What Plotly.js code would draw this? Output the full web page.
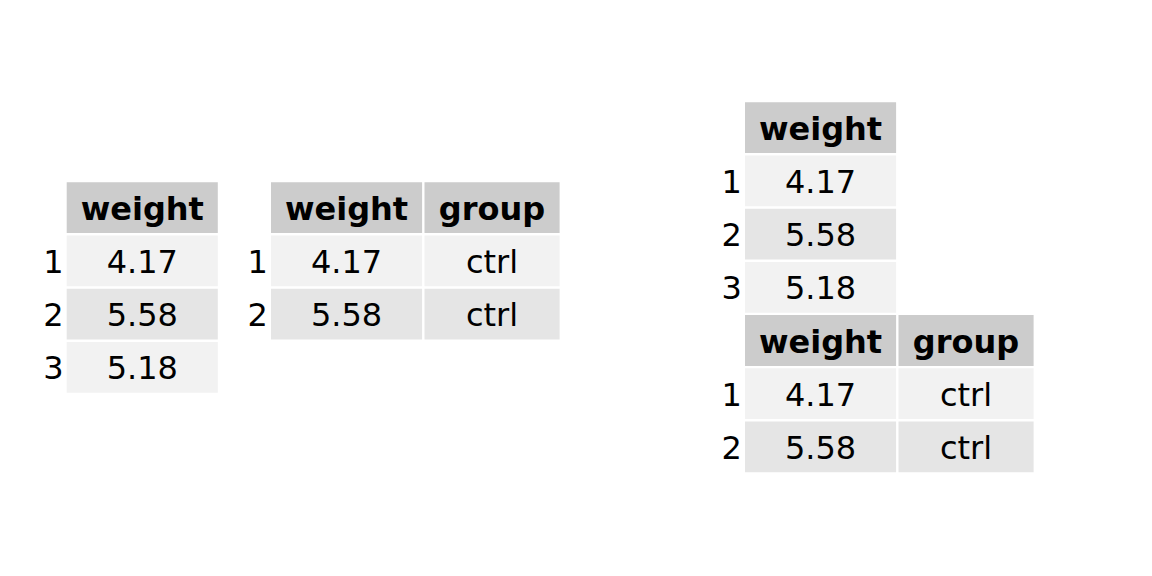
<!DOCTYPE html>
<html>
<head>
<meta charset="utf-8">
<script src="https://cdn.plot.ly/plotly-3.0.1.min.js"></script>
<style>
  html, body { margin: 0; padding: 0; background: #fff; }
  #chart { width: 1152px; height: 576px; }
</style>
</head>
<body>
<div id="chart"></div>
<script>
// data
const weight = [4.17, 5.58, 5.18];
const group = ['ctrl', 'ctrl', 'ctrl'];
const rowLabels = ['1', '2', '3'];

// tables: which columns and how many rows each one shows
const tables = [
  { columns: ['weight'], nrows: 3, left: 65.5, top: 181.1 },
  { columns: ['weight', 'group'], nrows: 2, left: 269.8, top: 181.1 },
  { columns: ['weight'], nrows: 3, left: 743.8, top: 101.1 },
  { columns: ['weight', 'group'], nrows: 2, left: 743.8, top: 313.9 },
];

const columnData = { weight: weight.map((v) => v.toFixed(2)), group };

// look
const ROW_H = 53.2;
const GAP = 1.2; // half of the white rule between cells
const TEXT_DY = 4; // plotly centres text a bit high
const COL_W = { weight: 153.5, group: 137.5 };
const FONT = 'DejaVu Sans, Liberation Sans, sans-serif';
const FONT_SIZE = 32;
const HEAD_FILL = '#cccccc';
const ODD_FILL = '#f2f2f2';
const EVEN_FILL = '#e5e5e5';

const polys = { head: { x: [], y: [] }, odd: { x: [], y: [] }, even: { x: [], y: [] } };
const headText = { x: [], y: [], text: [] };
const bodyText = { x: [], y: [], text: [] };
const rowText = { x: [], y: [], text: [] };

function addRect(target, x0, y0, x1, y1) {
  target.x.push(x0 + GAP, x1 - GAP, x1 - GAP, x0 + GAP, x0 + GAP, null);
  target.y.push(y0 + GAP, y0 + GAP, y1 - GAP, y1 - GAP, y0 + GAP, null);
}

tables.forEach((t) => {
  let x = t.left;
  t.columns.forEach((col) => {
    const w = COL_W[col];
    // header cell
    addRect(polys.head, x, t.top, x + w, t.top + ROW_H);
    headText.x.push(x + w / 2);
    headText.y.push(t.top + ROW_H / 2 + TEXT_DY);
    headText.text.push(col);
    // body cells
    for (let r = 0; r < t.nrows; r += 1) {
      const y0 = t.top + (r + 1) * ROW_H;
      addRect(r % 2 === 0 ? polys.odd : polys.even, x, y0, x + w, y0 + ROW_H);
      bodyText.x.push(x + w / 2);
      bodyText.y.push(y0 + ROW_H / 2 + TEXT_DY);
      bodyText.text.push(columnData[col][r]);
    }
    x += w;
  });
  for (let r = 0; r < t.nrows; r += 1) {
    rowText.x.push(t.left - 2);
    rowText.y.push(t.top + (r + 1.5) * ROW_H + TEXT_DY);
    rowText.text.push(rowLabels[r]);
  }
});

const fillTrace = (p, color) => ({
  type: 'scatter',
  mode: 'lines',
  x: p.x,
  y: p.y,
  fill: 'toself',
  fillcolor: color,
  line: { width: 0, color },
  hoverinfo: 'skip',
});

const textTrace = (d, pos, weightName) => ({
  type: 'scatter',
  mode: 'text',
  x: d.x,
  y: d.y,
  text: d.text,
  textposition: pos,
  textfont: { family: FONT, size: FONT_SIZE, color: '#000', weight: weightName },
  cliponaxis: false,
  hoverinfo: 'skip',
});

const traces = [
  fillTrace(polys.head, HEAD_FILL),
  fillTrace(polys.odd, ODD_FILL),
  fillTrace(polys.even, EVEN_FILL),
  textTrace(headText, 'middle center', 'bold'),
  textTrace(bodyText, 'middle center', 'normal'),
  textTrace(rowText, 'middle left', 'normal'),
];

const layout = {
  width: 1152,
  height: 576,
  margin: { l: 0, r: 0, t: 0, b: 0 },
  paper_bgcolor: '#fff',
  plot_bgcolor: '#fff',
  showlegend: false,
  xaxis: { range: [0, 1152], visible: false, fixedrange: true },
  yaxis: { range: [576, 0], visible: false, fixedrange: true },
};

Plotly.newPlot('chart', traces, layout, { displayModeBar: false, staticPlot: true });
</script>
</body>
</html>
